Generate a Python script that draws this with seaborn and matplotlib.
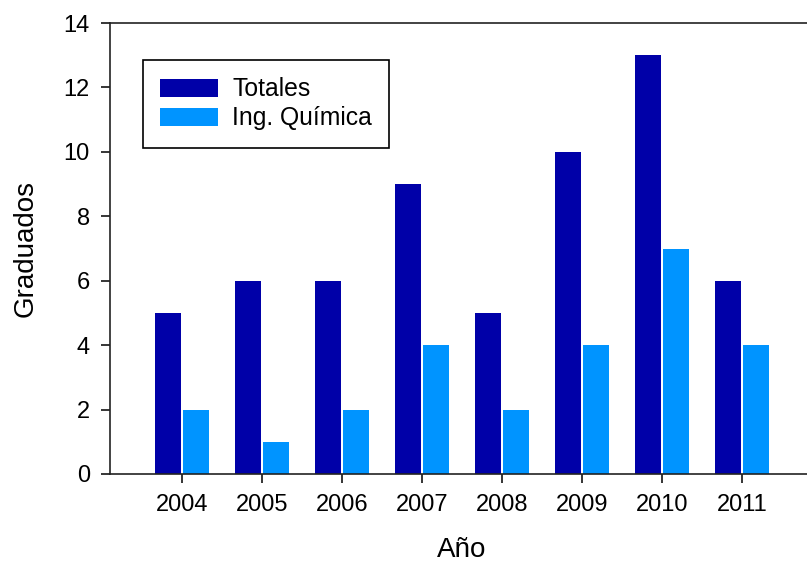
import matplotlib
matplotlib.use("Agg")
import matplotlib.pyplot as plt
import pandas as pd
import seaborn as sns

years = ["2004", "2005", "2006", "2007", "2008", "2009", "2010", "2011"]
totales = [5, 6, 6, 9, 5, 10, 13, 6]
quimica = [2, 1, 2, 4, 2, 4, 7, 4]
series_names = ["Totales", "Ing. Química"]
palette = ["#0000A8", "#0094FF"]

frame = pd.DataFrame({
    "year": years * 2,
    "value": totales + quimica,
    "serie": [series_names[0]] * len(years) + [series_names[1]] * len(years),
})

sns.set_style("ticks")
plt.rcParams["font.family"] = ["Liberation Sans", "DejaVu Sans"]
plt.rcParams["text.color"] = "black"
plt.rcParams["axes.labelcolor"] = "black"
plt.rcParams["xtick.color"] = "black"
plt.rcParams["ytick.color"] = "black"

fig = plt.figure(figsize=(8.07, 5.65), dpi=100)
ax = fig.add_axes([110 / 807, 91 / 565, 704 / 807, 451 / 565])
sns.barplot(data=frame, x="year", y="value", hue="serie", palette=palette,
            saturation=1, width=0.69, gap=0.06, linewidth=0, ax=ax)

ax.set_xlim(-0.9, 7.9)
ax.set_ylim(0, 14)
ax.set_yticks(range(0, 15, 2))
ax.tick_params(axis="both", labelsize=17, length=6.5, width=1.1, pad=8)
ax.set_xlabel("Año", fontsize=20, labelpad=15)
ax.set_ylabel("Graduados", fontsize=20, labelpad=18)
for side in ["left", "bottom", "top", "right"]:
    ax.spines[side].set_visible(True)
    ax.spines[side].set_linewidth(1.2)
    ax.spines[side].set_color("#222222")

leg = ax.legend(loc="upper left", bbox_to_anchor=(0.047, 0.918), borderaxespad=0,
                fontsize=17.8, handlelength=2.35, handleheight=0.75, handletextpad=0.55,
                labelspacing=0.2, borderpad=0.7, fancybox=False, framealpha=1)
leg.get_frame().set_edgecolor("black")
leg.get_frame().set_linewidth(1.2)

fig.savefig("out.png", dpi=100)
